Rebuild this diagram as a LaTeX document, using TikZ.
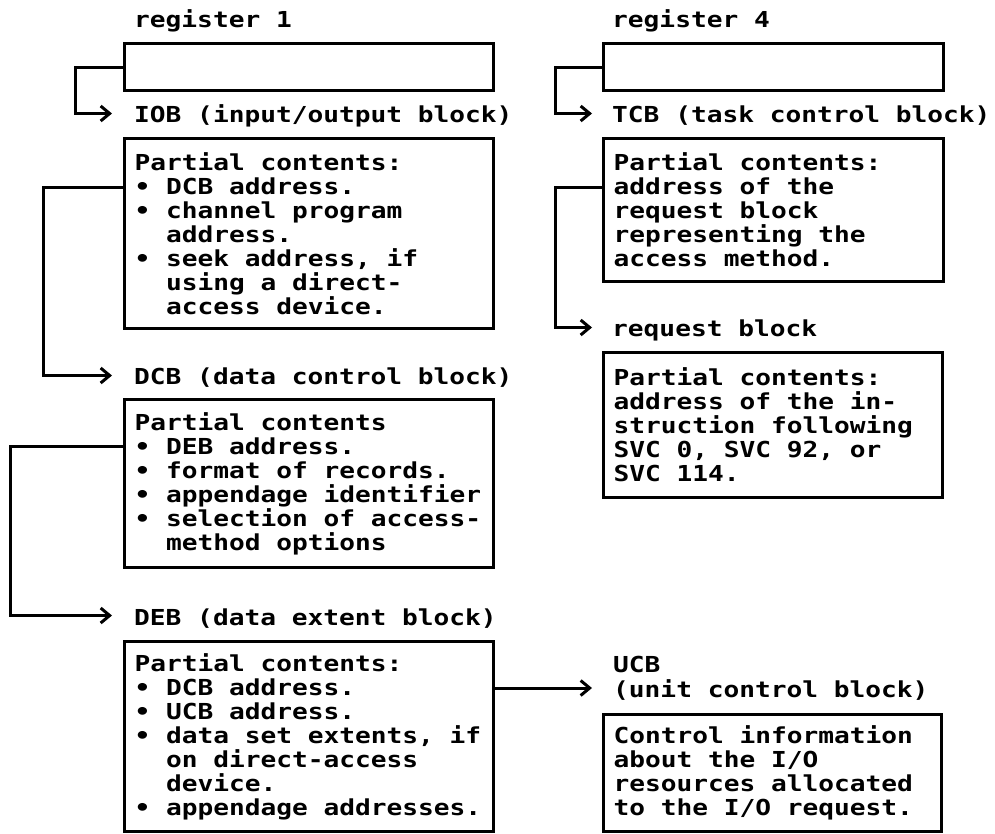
\documentclass[tikz,border=0pt]{standalone}
\usepackage{fontspec}
\newfontfamily\ibm{DejaVu Sans Mono}[FakeStretch=1.19]
\usetikzlibrary{arrows.meta,calc}
% monospaced bold text with fixed, character-wide word spaces
\newcommand\monoset{\ibm\bfseries\fontsize{22}{24}\selectfont}
\newcommand\fixsp{\spaceskip=\fontcharwd\font`x\relax\xspaceskip=\spaceskip}
\tikzset{
  txt/.style={font=\monoset, inner sep=0pt, execute at begin node=\fixsp},
  title/.style={txt, anchor=base west},
  blk/.style={txt, draw, line width=3pt, anchor=north west, inner xsep=10pt,
    inner ysep=0pt, align=left},
  link/.style={line width=3pt, line join=miter,
    -{Straight Barb[length=9pt,width=15pt]}},
}
\newcommand\ind{\phantom{•~}}
\begin{document}
\begin{tikzpicture}[x=1pt,y=-1pt]
\useasboundingbox (0,0) rectangle (995,833);

% ---- left column: register 1 -> IOB -> DCB -> DEB
\node[title] (reg1l) at (134,27) {register 1};
\node[blk, text width=349pt, minimum height=47pt] (reg1) at (123,42) {};
\node[title] (iobl) at (134,122) {IOB (input/output block)};
\node[blk, text width=349pt, minimum height=190pt] (iob) at (123,137) {%
Partial contents:\\
•~DCB address.\\
•~channel program\\
\ind address.\\
•~seek address, if\\
\ind using a direct-\\
\ind access device.};
\node[title] (dcbl) at (134,384) {DCB (data control block)};
\node[blk, text width=349pt, minimum height=168pt] (dcb) at (123,398) {%
Partial contents\\
•~DEB address.\\
•~format of records.\\
•~appendage identifier\\
•~selection of access-\\
\ind method options};
\node[title] (debl) at (134,625) {DEB (data extent block)};
\node[blk, text width=349pt, minimum height=190pt] (deb) at (123,640) {%
Partial contents:\\
•~DCB address.\\
•~UCB address.\\
•~data set extents, if\\
\ind on direct-access\\
\ind device.\\
•~appendage addresses.};

% ---- right column: register 4 -> TCB -> request block; UCB
\node[title] (reg4l) at (612,27) {register 4};
\node[blk, text width=320pt, minimum height=47pt] (reg4) at (602,42) {};
\node[title] (tcbl) at (612,122) {TCB (task control block)};
\node[blk, text width=320pt, minimum height=143pt] (tcb) at (602,137) {%
Partial contents:\\
address of the\\
request block\\
representing the\\
access method.};
\node[title] (rbl) at (612,336) {request block};
\node[blk, text width=319pt, minimum height=145pt] (rb) at (602,351) {%
Partial contents:\\
address of the in-\\
struction following\\
SVC 0, SVC 92, or\\
SVC 114.};
\node[title] (ucbl) at (613,672) {UCB};
\node[title] (ucbf) at (613,697) {(unit control block)};
\node[blk, text width=318pt, minimum height=117pt] (ucb) at (602,713) {%
Control information\\
about the I/O\\
resources allocated\\
to the I/O request.};

% ---- connectors
\coordinate (t1) at ($(iobl.base west)+(-22,-8.5)$);
\coordinate (t2) at ($(dcbl.base west)+(-22,-8.5)$);
\coordinate (t3) at ($(debl.base west)+(-22,-9.5)$);
\coordinate (t4) at ($(tcbl.base west)+(-20,-8.5)$);
\coordinate (t5) at ($(rbl.base west)+(-20,-8.5)$);
\coordinate (t6) at ($(ucbf.base west)+(-21,-9)$);

\draw[link] (reg1.west) -- ++(-48,0) |- (t1);
\draw[link] ($(iob.north west)+(0,50)$) -- ++(-80,0) |- (t2);
\draw[link] ($(dcb.north west)+(0,48)$) -- ++(-113,0) |- (t3);
\draw[link] (reg4.west) -- ++(-47,0) |- (t4);
\draw[link] ($(tcb.north west)+(0,50)$) -- ++(-47,0) |- (t5);
\draw[link] (deb.east |- t6) -- (t6);
\end{tikzpicture}
\end{document}
